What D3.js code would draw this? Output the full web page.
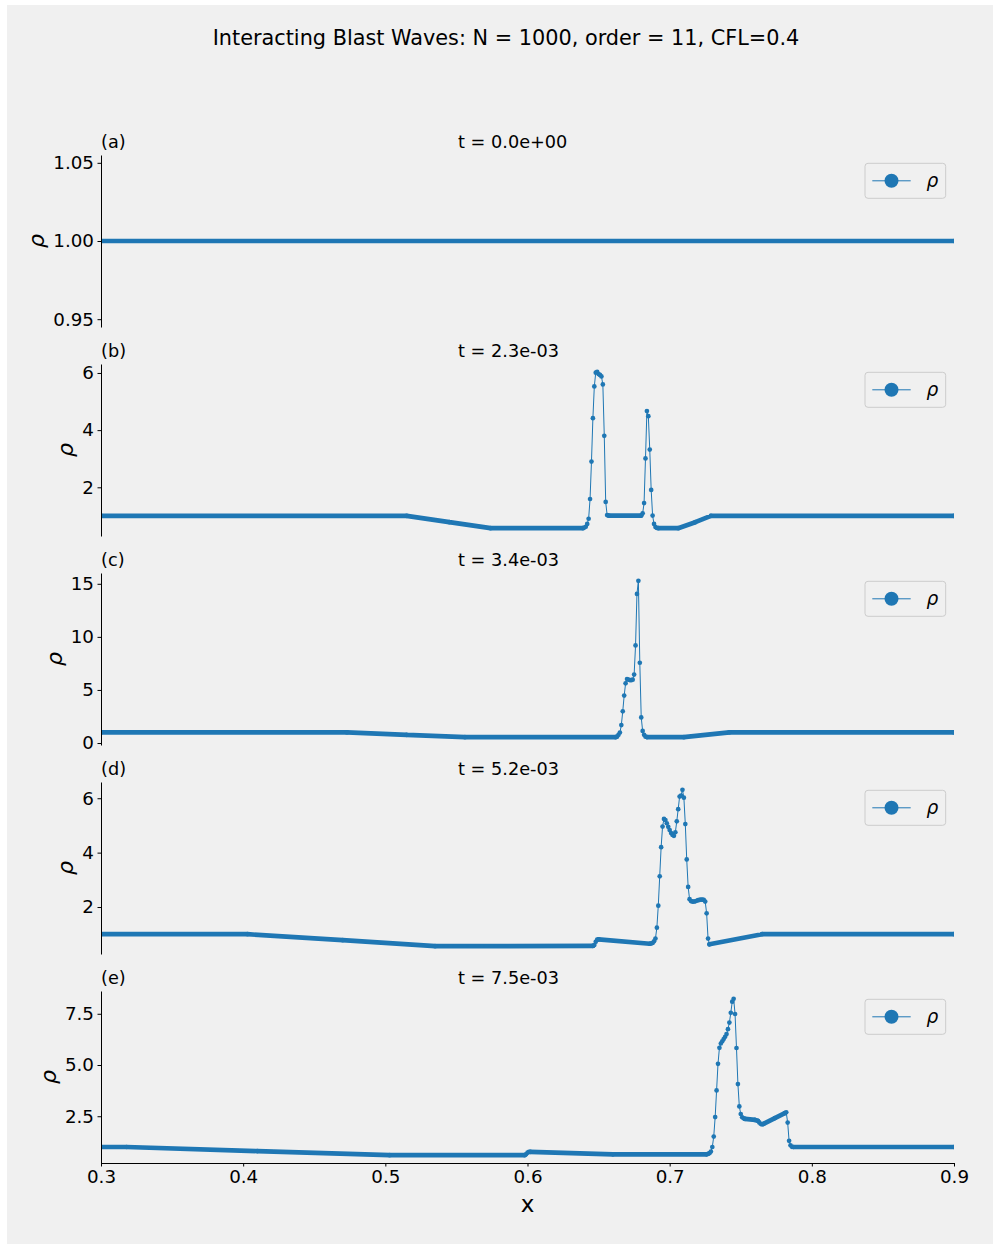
<!DOCTYPE html>
<html>
<head>
<meta charset="utf-8">
<script src="https://cdn.jsdelivr.net/npm/d3@7"></script>
<style>
  body { margin: 0; background: #ffffff; }
  svg { display: block; }
  text { font-family: "DejaVu Sans", sans-serif; fill: #000; }
</style>
</head>
<body>
<svg id="fig" width="1000" height="1249"></svg>
<script>
// ---- labels ----
const figTitle = "Interacting Blast Waves: N = 1000, order = 11, CFL=0.4";
const panelLabels = ["(a)", "(b)", "(c)", "(d)", "(e)"];
const timeLabels = ["t = 0.0e+00", "t = 2.3e-03", "t = 3.4e-03", "t = 5.2e-03", "t = 7.5e-03"];
const xLabel = "x";
const yLabel = "ρ";
const legendLabel = "ρ";

// ---- tick labels ----
const xTicks = [0.3, 0.4, 0.5, 0.6, 0.7, 0.8, 0.9];
const yTicksA = [0.95, 1.00, 1.05];
const yTicksB = [2, 4, 6];
const yTicksC = [0, 5, 10, 15];
const yTicksD = [2, 4, 6];
const yTicksE = [2.5, 5.0, 7.5];

// ---- density profiles (x, rho) ----
// t = 0
const xA = [0.30, 0.90];
const rhoA = [1.00, 1.00];

// t = 2.3e-03
const xB = [0.300, 0.515, 0.545, 0.574, 0.639,
  0.640, 0.641, 0.642, 0.643, 0.644, 0.645, 0.646, 0.647, 0.648, 0.649,
  0.650, 0.651, 0.652, 0.653, 0.654, 0.655, 0.656, 0.657,
  0.680, 0.681, 0.682, 0.683, 0.684, 0.685, 0.686, 0.687, 0.688, 0.689,
  0.690, 0.691, 0.692, 0.706, 0.718, 0.729, 0.900];
const rhoB = [1.00, 1.00, 0.78, 0.57, 0.57,
  0.59, 0.62, 0.72, 0.90, 1.59, 2.90, 4.42, 5.53, 6.01, 6.04,
  5.96, 5.93, 5.88, 5.60, 3.80, 1.49, 1.03, 1.01,
  1.01, 1.09, 1.45, 3.01, 4.67, 4.49, 3.32, 1.91, 1.01, 0.72,
  0.61, 0.58, 0.57, 0.57, 0.78, 1.00, 1.00];

// t = 3.4e-03
const xC = [0.300, 0.473, 0.515, 0.556, 0.662, 0.663,
  0.664, 0.665, 0.666, 0.667, 0.668, 0.669, 0.670, 0.671, 0.672, 0.673,
  0.674, 0.675, 0.676, 0.677, 0.678, 0.679, 0.680, 0.681, 0.682,
  0.683, 0.684, 0.710, 0.742, 0.900];
const rhoC = [1.00, 1.00, 0.77, 0.55, 0.55, 0.60,
  0.77, 0.99, 1.69, 2.99, 4.47, 5.62, 6.02, 5.97, 5.93, 5.92,
  5.97, 6.45, 9.19, 14.05, 15.28, 7.56, 2.41, 1.14, 0.77,
  0.60, 0.56, 0.55, 1.00, 1.00];

// t = 5.2e-03
const xD = [0.300, 0.403, 0.470, 0.535, 0.646, 0.647, 0.648, 0.649, 0.650,
  0.686, 0.687, 0.688, 0.689,
  0.690, 0.691, 0.692, 0.693, 0.694, 0.695, 0.696, 0.697, 0.698, 0.699,
  0.700, 0.701, 0.702, 0.703, 0.704, 0.705, 0.706, 0.707, 0.708, 0.709,
  0.710, 0.711, 0.712, 0.713, 0.714, 0.715, 0.716, 0.717, 0.718, 0.719,
  0.720, 0.721, 0.722, 0.723, 0.724, 0.725, 0.726, 0.727, 0.728,
  0.765, 0.900];
const rhoD = [1.00, 1.00, 0.78, 0.56, 0.57, 0.60, 0.72, 0.80, 0.81,
  0.65, 0.66, 0.68, 0.74,
  0.84, 1.24, 2.05, 3.13, 4.20, 4.96, 5.24, 5.20, 5.08, 4.95,
  4.83, 4.72, 4.65, 4.62, 4.75, 5.15, 5.60, 6.06, 6.10, 6.31,
  6.02, 5.05, 3.75, 2.74, 2.29, 2.22, 2.20, 2.20, 2.21, 2.23,
  2.25, 2.26, 2.27, 2.27, 2.26, 2.20, 1.77, 0.84, 0.63,
  1.00, 1.00];

// t = 7.5e-03
const xE = [0.300, 0.318, 0.410, 0.503, 0.598, 0.599, 0.600, 0.601, 0.602,
  0.660, 0.726, 0.727, 0.728, 0.729,
  0.730, 0.731, 0.732, 0.733, 0.734, 0.735, 0.736, 0.737, 0.738, 0.739,
  0.740, 0.741, 0.742, 0.743, 0.744, 0.745, 0.746, 0.747, 0.748, 0.749, 0.750,
  0.751, 0.752, 0.753, 0.760, 0.762, 0.763, 0.764, 0.765, 0.766, 0.774,
  0.781, 0.782, 0.783, 0.784, 0.785, 0.786, 0.787, 0.900];
const rhoE = [1.00, 1.00, 0.80, 0.60, 0.60, 0.64, 0.72, 0.76, 0.76,
  0.64, 0.64, 0.66, 0.70, 0.78,
  1.00, 1.51, 2.46, 3.76, 5.06, 5.84, 6.05, 6.16, 6.27, 6.38,
  6.51, 6.75, 7.07, 7.55, 8.09, 8.23, 7.49, 5.83, 4.07, 2.98, 2.61,
  2.45, 2.40, 2.37, 2.32, 2.28, 2.20, 2.13, 2.10, 2.13, 2.41,
  2.65, 2.69, 2.19, 1.30, 1.08, 1.01, 1.00, 1.00];

const panels = [
  { xs: xA, rho: rhoA, ticks: yTicksA, fmt: d3.format(".2f") },
  { xs: xB, rho: rhoB, ticks: yTicksB, fmt: d3.format("d") },
  { xs: xC, rho: rhoC, ticks: yTicksC, fmt: d3.format("d") },
  { xs: xD, rho: rhoD, ticks: yTicksD, fmt: d3.format("d") },
  { xs: xE, rho: rhoE, ticks: yTicksE, fmt: d3.format(".1f") }
];

// ---- layout ----
const blue = "#1f77b4";
const left = 101, right = 954, axH = 172, gap = 37, firstTop = 155;
const dotR = 2.35;
const svg = d3.select("#fig");

svg.append("rect")
  .attr("x", 7).attr("y", 5).attr("width", 986).attr("height", 1239)
  .attr("fill", "#f0f0f0");

svg.append("text")
  .attr("x", 506).attr("y", 45)
  .attr("text-anchor", "middle")
  .style("font-size", "20.8px")
  .text(figTitle);

const x = d3.scaleLinear().domain([0.3, 0.9]).range([left, right]);

panels.forEach((p, i) => {
  const top = firstTop + i * (axH + gap);
  const bot = top + axH;

  // autoscaled limits with 5% margins
  let [lo, hi] = d3.extent(p.rho);
  if (lo === hi) { lo -= 0.05 * Math.abs(lo); hi += 0.05 * Math.abs(hi); }
  const pad = (hi - lo) * 0.05;
  const y = d3.scaleLinear().domain([lo - pad, hi + pad]).range([bot, top]);

  const g = svg.append("g");
  const clipId = "clip" + i;
  g.append("clipPath").attr("id", clipId)
    .append("rect").attr("x", left).attr("y", top)
    .attr("width", right - left).attr("height", axH);

  const pts = p.xs.map((xv, k) => [xv, p.rho[k]]);
  const plot = g.append("g").attr("clip-path", `url(#${clipId})`);

  // densely sampled stretches render as a solid band of overlapping markers
  let band = "";
  for (let k = 0; k < pts.length - 1; k++) {
    if (pts[k + 1][0] - pts[k][0] > 0.0015) {
      band += `M${x(pts[k][0])},${y(pts[k][1])}L${x(pts[k + 1][0])},${y(pts[k + 1][1])}`;
    }
  }
  plot.append("path").attr("d", band)
    .attr("fill", "none").attr("stroke", blue)
    .attr("stroke-width", dotR * 2).attr("stroke-linecap", "round")
    .attr("stroke-linejoin", "round");

  plot.append("path")
    .attr("d", d3.line().x(d => x(d[0])).y(d => y(d[1]))(pts))
    .attr("fill", "none").attr("stroke", blue).attr("stroke-width", 1);

  plot.selectAll("circle.pt").data(pts).join("circle")
    .attr("class", "pt")
    .attr("cx", d => x(d[0])).attr("cy", d => y(d[1]))
    .attr("r", dotR).attr("fill", blue);

  // y axis
  const ya = g.append("g").attr("transform", `translate(${left},0)`)
    .call(d3.axisLeft(y).tickValues(p.ticks).tickFormat(p.fmt)
      .tickSize(3.5).tickPadding(3.5).tickSizeOuter(0));
  ya.select(".domain").attr("stroke", "#000").attr("stroke-width", 1);
  ya.selectAll(".tick line").attr("stroke", "#000");
  ya.selectAll(".tick text").style("font-size", "18.3px").attr("font-family", null);

  let minLeft = Infinity;
  ya.selectAll(".tick text").each(function () {
    const b = this.getBBox();
    minLeft = Math.min(minLeft, left + b.x);
  });

  g.append("text")
    .attr("transform", `translate(${minLeft - 9},${(top + bot) / 2}) rotate(-90)`)
    .attr("text-anchor", "middle")
    .style("font-size", "22px").style("font-style", "italic")
    .text(yLabel);

  // panel annotations
  g.append("text").attr("x", left).attr("y", top - 7)
    .style("font-size", "17.7px").text(panelLabels[i]);
  g.append("text").attr("x", 458).attr("y", top - 7)
    .style("font-size", "17.7px").text(timeLabels[i]);

  // legend
  const lw = 80.7, lh = 35, lx = right - 8.3 - lw, ly = top + 8.3;
  const lg = g.append("g").attr("transform", `translate(${lx},${ly})`);
  lg.append("rect").attr("width", lw).attr("height", lh).attr("rx", 3)
    .attr("fill", "#f0f0f0").attr("fill-opacity", 0.8)
    .attr("stroke", "#cccccc").attr("stroke-width", 1);
  lg.append("line").attr("x1", 7.3).attr("x2", 45.7)
    .attr("y1", lh / 2).attr("y2", lh / 2)
    .attr("stroke", blue).attr("stroke-width", 1);
  lg.append("circle").attr("cx", 26.5).attr("cy", lh / 2).attr("r", 7).attr("fill", blue);
  lg.append("text").attr("x", 61.5).attr("y", lh / 2 + 6)
    .style("font-size", "18.5px").style("font-style", "italic")
    .text(legendLabel);

  // x axis on the bottom panel only
  if (i === panels.length - 1) {
    const xa = g.append("g").attr("transform", `translate(0,${bot})`)
      .call(d3.axisBottom(x).tickValues(xTicks).tickFormat(d3.format(".1f"))
        .tickSize(3.5).tickPadding(3.5).tickSizeOuter(0));
    xa.select(".domain").attr("stroke", "#000").attr("stroke-width", 1);
    xa.selectAll(".tick line").attr("stroke", "#000");
    xa.selectAll(".tick text").style("font-size", "18.3px").attr("font-family", null);

    g.append("text").attr("x", (left + right) / 2).attr("y", bot + 49)
      .attr("text-anchor", "middle").style("font-size", "23px")
      .text(xLabel);
  }
});
</script>
</body>
</html>
